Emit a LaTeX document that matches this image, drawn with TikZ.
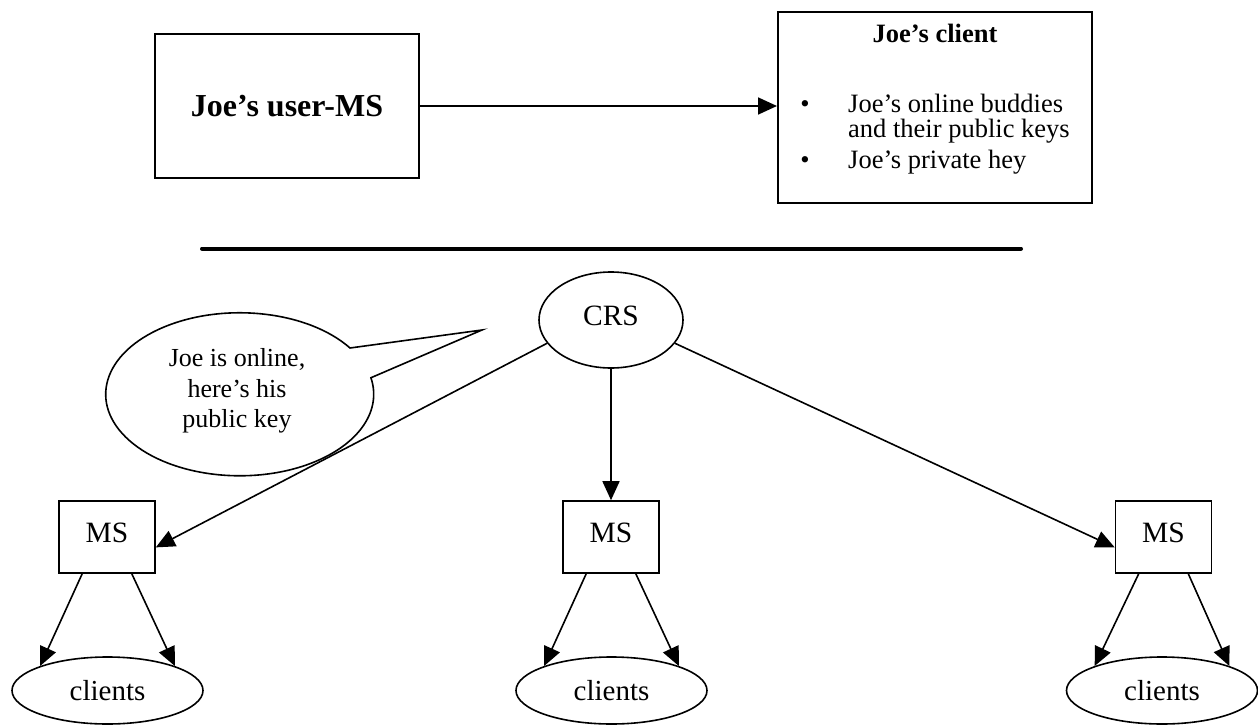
\documentclass[tikz,border=0pt]{standalone}
\usepackage{fontspec}
\setmainfont{Liberation Serif}
\usetikzlibrary{arrows.meta,shapes.geometric}

\tikzset{
  topbox/.style={draw, line width=2pt, inner sep=0pt},
  msbox/.style={draw, line width=1.6pt, minimum width=96pt, minimum height=72pt, inner sep=0pt, text depth=9pt, font=\fontsize{29.5}{34}\selectfont},
  clientsnode/.style={draw, ellipse, line width=1.6pt, minimum width=191pt, minimum height=67pt, inner sep=0pt, font=\fontsize{29}{34}\selectfont},
  listtext/.style={inner sep=0pt, font=\fontsize{26.5}{30}\selectfont},
  arr/.style={line width=1.6pt, -{Triangle[length=19pt,width=17pt]}},
}

\begin{document}
\begin{tikzpicture}[x=1pt, y=-1pt]
        \useasboundingbox (0,0) rectangle (1258,725);

        % Top part
        \node[topbox, minimum width=264pt, minimum height=144pt, font=\fontsize{32}{38}\selectfont\bfseries] (userms) at (287,106) {Joe’s user-MS};
        \node[topbox, minimum width=314pt, minimum height=191pt] (client) at (935,107.5) {};
        \node[listtext, anchor=base, font=\fontsize{26.5}{30}\selectfont\bfseries] (clienttitle) at (935,43) {Joe’s client};
        \node[listtext, anchor=base] (bulleta) at (805,112) {•};
        \node[listtext, anchor=base west] (itema) at (848,112) {Joe’s online buddies};
        \node[listtext, anchor=base west] (itemb) at (848,137) {and their public keys};
        \node[listtext, anchor=base] (bulletb) at (805,168) {•};
        \node[listtext, anchor=base west] (itemc) at (848,168) {Joe’s private hey};
        \draw[arr, line width=1.8pt] (userms.east) -- (userms.east -| client.west);

        % Separator
        \draw[line width=4pt, line cap=round] (202,248.5) -- (1021,248.5);

        % CRS and speech bubble
        \node[draw, ellipse, line width=1.6pt, minimum width=144pt, minimum height=96pt, inner sep=0pt, text depth=9pt, font=\fontsize{29.5}{34}\selectfont] (crs) at (611,320) {CRS};
        \draw[line width=1.6pt, line join=miter] (482,330) -- (350,348) arc[start angle=34.6, end angle=371.7, x radius=134pt, y radius=81.5pt] -- cycle;
        \node[align=center, inner sep=0pt, font=\fontsize{26}{30.5}\selectfont] (bubble) at (237,391) {Joe is online,\\here’s his\\public key};

        % MS nodes
        \node[msbox] (msl) at (107,537) {MS};
        \node[msbox] (msm) at (611,537) {MS};
        \node[msbox] (msr) at (1163.5,537) {MS};
        \draw[arr] (crs.200) -- (msl.-12);
        \draw[arr] (crs.south) -- (msm.north);
        \draw[arr] (crs.-20) -- (msr.192);

        % Clients
        \node[clientsnode] (cll) at (107.5,690.5) {clients};
        \node[clientsnode] (clm) at (611.5,690.5) {clients};
        \node[clientsnode] (clr) at (1162,690.5) {clients};
        \draw[arr] (msl.236) -- (cll.160);
        \draw[arr] (msl.304) -- (cll.20);
        \draw[arr] (msm.236) -- (clm.160);
        \draw[arr] (msm.304) -- (clm.20);
        \draw[arr] (msr.236) -- (clr.160);
        \draw[arr] (msr.304) -- (clr.20);
\end{tikzpicture}
\end{document}
